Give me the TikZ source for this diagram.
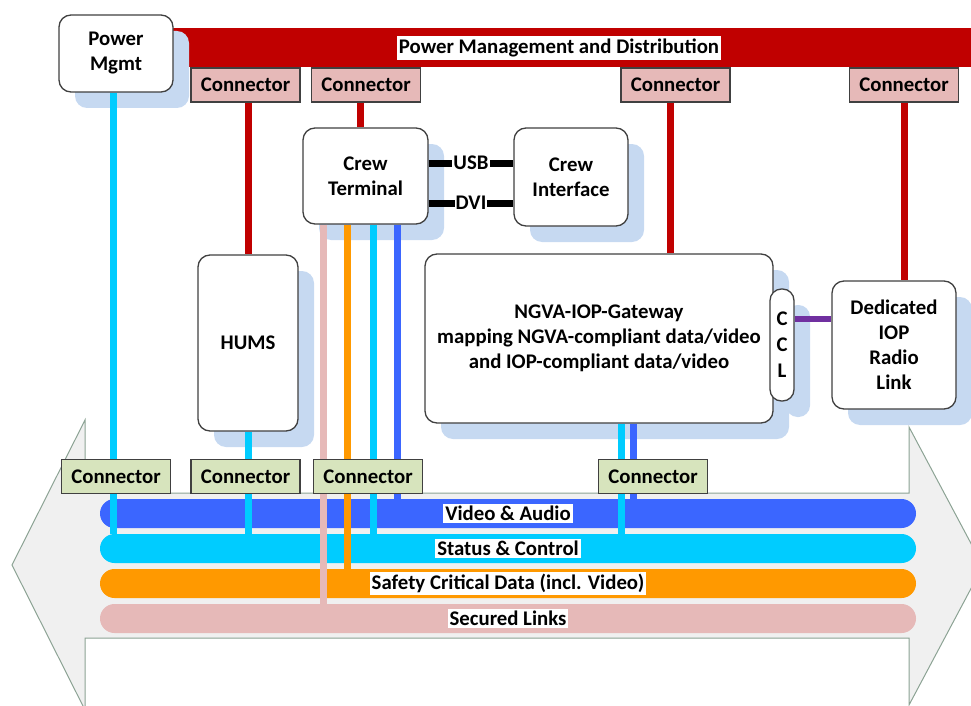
\documentclass[tikz,border=0pt]{standalone}
\usepackage{fontspec}
\setmainfont{Carlito}
\usetikzlibrary{shadows}
\definecolor{redbar}{HTML}{C00000}
\definecolor{conpink}{HTML}{E6B9B8}
\definecolor{congreen}{HTML}{D7E4BD}
\definecolor{shadowc}{HTML}{C6D9F1}
\definecolor{busblue}{HTML}{3B66FF}
\definecolor{buscyan}{HTML}{00CCFF}
\definecolor{busorange}{HTML}{FF9900}
\definecolor{buspink}{HTML}{E6B9B8}
\definecolor{purplec}{HTML}{7030A0}
\definecolor{borderc}{HTML}{404040}
\definecolor{arrowfill}{HTML}{F0F0F0}
\definecolor{arrowline}{HTML}{8CA394}
\begin{document}
\begin{tikzpicture}[x=1pt,y=-1pt,
  every node/.style={font=\fontsize{20.8}{25}\selectfont\bfseries, inner sep=0pt, align=center},
  unit/.style={draw=borderc, line width=1.3pt, fill=white, rounded corners=12pt,
    drop shadow={shadow xshift=16pt, shadow yshift=-16pt, fill=shadowc, opacity=1}},
  conbox/.style={draw=borderc, line width=1.3pt, minimum width=109pt, minimum height=34pt},
  topcon/.style={conbox, fill=conpink},
  botcon/.style={conbox, fill=congreen},
  bus/.style={minimum width=816pt, minimum height=29pt, rounded corners=14.5pt},
  buslabel/.style={fill=white, inner xsep=2pt, inner ysep=2.5pt},
  cable/.style={line width=7pt},
]
\useasboundingbox (0,0) rectangle (971,706);
\clip (0,0) rectangle (971,706);

% big double arrow
\filldraw[fill=arrowfill, draw=arrowline, line width=1pt]
  (12,565) -- (85,420) -- (85,493) -- (909,493) -- (909,427) -- (983,566)
  -- (909,705) -- (909,638) -- (85,638) -- (85,710) -- cycle;

% bus bars
\node[bus, fill=busblue]   (va) at (508,513.5) {};
\node[bus, fill=buscyan]   (sc) at (508,548.5) {};
\node[bus, fill=busorange] (sf) at (508,583.5) {};
\node[bus, fill=buspink]   (sl) at (508,618.5) {};

% power bar
\fill[redbar] (173,28) rectangle (971,67);
\node[fill=white, inner xsep=2pt, inner ysep=3pt] (pmd) at (559,48) {Power Management and Distribution};

% top connectors
\node[topcon] (tc1) at (245.5,85) {Connector};
\node[topcon] (tc2) at (366,85) {Connector};
\node[topcon] (tc3) at (675.5,85) {Connector};
\node[topcon] (tc4) at (904,85) {Connector};

% units
\node[unit, minimum width=114pt, minimum height=77pt] (pm) at (116,53.5) {Power\\Mgmt};
\node[unit, minimum width=125pt, minimum height=96pt] (ct) at (365.5,176) {Crew\\Terminal};
\node[unit, minimum width=114pt, minimum height=98pt] (ci) at (571,177) {Crew\\Interface};
\node[unit, minimum width=100pt, minimum height=176pt] (hu) at (248,343) {HUMS};
\node[unit, minimum width=348pt, minimum height=169pt] (gw) at (599,338.5) {NGVA-IOP-Gateway\\mapping NGVA-compliant data/video\\and IOP-compliant data/video};
\node[unit, minimum width=24pt, minimum height=112pt, rounded corners=11.5pt, font=\fontsize{20.8}{26}\selectfont\bfseries] (ccl) at (782,345) {C\\C\\L};
\node[unit, minimum width=124pt, minimum height=128pt] (ra) at (894,345) {Dedicated\\IOP\\Radio\\Link};

% power feeds
\draw[cable, redbar] (tc1.south -| hu.north) -- (hu.north);
\draw[cable, redbar] ([xshift=-6pt]tc2.south) -- ([xshift=-6pt]tc2.south |- ct.north);
\draw[cable, redbar] ([xshift=-5.5pt]tc3.south) -- ([xshift=-5.5pt]tc3.south |- gw.north);
\draw[cable, redbar] (tc4.south) -- (tc4.south |- ra.north);

% USB / DVI
\draw[cable, black] ([yshift=13pt]ct.east) -- ([yshift=14pt]ci.west) node[midway, fill=white, inner xsep=1pt, inner ysep=0pt, yshift=0.5pt] (usb) {USB};
\draw[cable, black] ([yshift=-27pt]ct.east) -- ([yshift=-26pt]ci.west) node[midway, fill=white, inner xsep=1pt, inner ysep=0pt, yshift=0.5pt] (dvi) {DVI};

% CCL to radio
\draw[line width=6pt, purplec] ([yshift=26pt]ccl.east) -- ([yshift=26pt]ccl.east -| ra.west);

% data cables
\draw[cable, buscyan] ([xshift=-3pt]pm.south) -- ([xshift=-3pt]pm.south |- sc.north);
\draw[cable, buscyan] (hu.south) -- (hu.south |- sc.north);
\draw[cable, buspink]   ([xshift=-42.5pt]ct.south) -- ([xshift=-42.5pt]ct.south |- sl.north);
\draw[cable, busorange] ([xshift=-18.5pt]ct.south) -- ([xshift=-18.5pt]ct.south |- sf.north);
\draw[cable, buscyan]   ([xshift=7.5pt]ct.south) -- ([xshift=7.5pt]ct.south |- sc.north);
\draw[cable, busblue]   ([xshift=31.5pt]ct.south) -- ([xshift=31.5pt]ct.south |- va.north);
\draw[cable, buscyan]   ([xshift=22pt]gw.south) -- ([xshift=22pt]gw.south |- sc.north);
\draw[cable, busblue]   ([xshift=34pt]gw.south) -- ([xshift=34pt]gw.south |- va.north);

% bus labels
\node[buslabel] (val) at (va) {Video \& Audio};
\node[buslabel] (scl) at (sc) {Status \& Control};
\node[buslabel] (sfl) at (sf) {Safety Critical Data (incl. Video)};
\node[buslabel] (sll) at (sl) {Secured Links};

% bottom connectors
\node[botcon] (bc1) at (116,476.5) {Connector};
\node[botcon] (bc2) at (245.5,476.5) {Connector};
\node[botcon] (bc3) at (368,476.5) {Connector};
\node[botcon] (bc4) at (653,476.5) {Connector};
\end{tikzpicture}
\end{document}
